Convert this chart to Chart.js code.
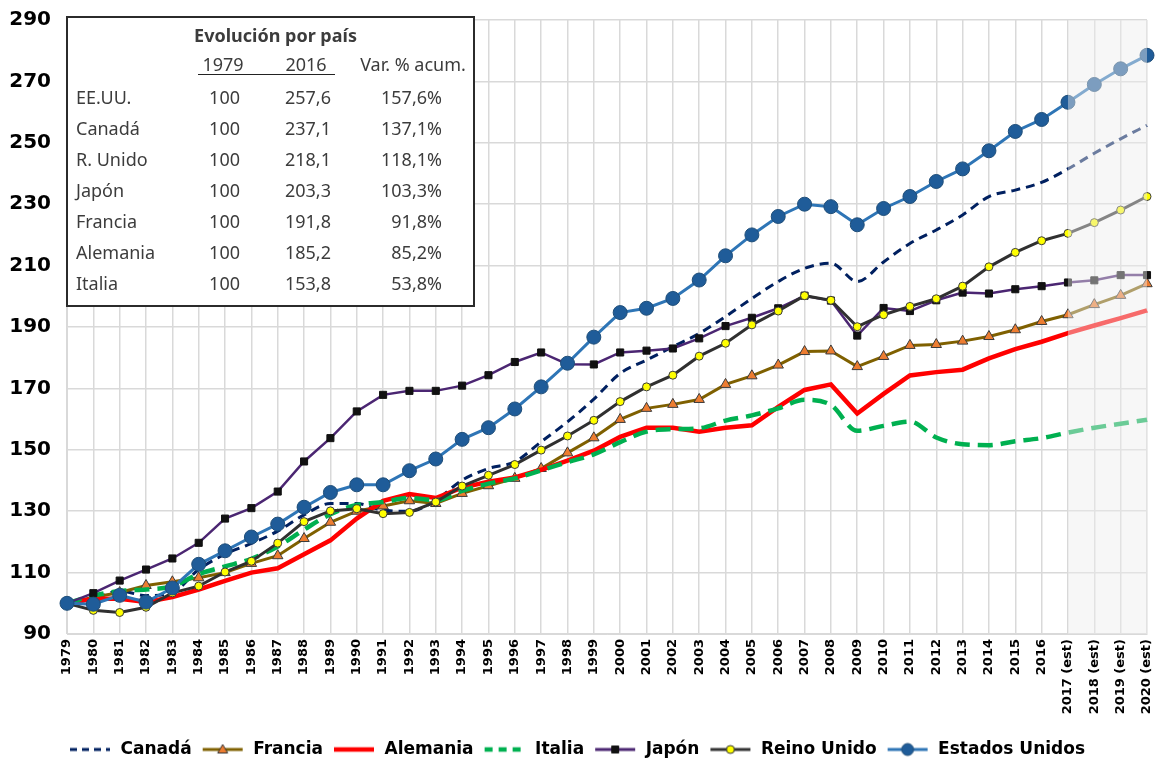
<!DOCTYPE html>
<html>
<head>
<meta charset="utf-8">
<script src="https://cdn.jsdelivr.net/npm/chart.js@4/dist/chart.umd.min.js"></script>
<style>
    body { margin: 0; background: #ffffff; }
    #wrap { position: relative; width: 1156px; height: 761px; }
    #inset {
        position: absolute; left: 66px; top: 16px; width: 405px; height: 287px;
        background: #ffffff; border: 2px solid #2b2b2b;
        font-family: "Noto Sans", "Open Sans", sans-serif; font-size: 18px; color: #3c3c3c;
    }
    #inset span { position: absolute; white-space: nowrap; line-height: 20px; }
</style>
</head>
<body>
<div id="wrap">
    <canvas id="chart" width="1156" height="761"></canvas>
    <div id="inset"></div>
</div>
<script>
// Years on the x axis
const years = ['1979', '1980', '1981', '1982', '1983', '1984', '1985', '1986', '1987', '1988',
    '1989', '1990', '1991', '1992', '1993', '1994', '1995', '1996', '1997', '1998',
    '1999', '2000', '2001', '2002', '2003', '2004', '2005', '2006', '2007', '2008',
    '2009', '2010', '2011', '2012', '2013', '2014', '2015', '2016',
    '2017 (est)', '2018 (est)', '2019 (est)', '2020 (est)'];

// Index 1979 = 100
const canada = [100, 101.5, 104, 102.5, 103.5, 111, 116, 119.5, 123.5, 128.8,
    132.5, 132.5, 130.3, 130, 133.6, 140.1, 143.9, 146.1, 152.6, 159.1,
    166.5, 174.9, 179.2, 183.6, 187.9, 193.4, 199.3, 204.8, 209.1, 210.8,
    204.8, 211.2, 217.2, 221.6, 226.5, 232.5, 234.6, 237.1, 241.5, 246.6, 251.3, 255.7];
const francia = [100, 102, 103.5, 105.8, 107, 108.3, 110, 113, 115.5, 121.1,
    126.4, 130, 131.7, 133.4, 132.5, 135.8, 138.3, 140.7, 143.9, 149,
    153.9, 159.9, 163.5, 164.8, 166.4, 171.3, 174.1, 177.6, 182, 182.2,
    177.1, 180.4, 184, 184.3, 185.4, 186.9, 189.1, 191.8, 194, 197.3, 200.3, 204.1];
const alemania = [100, 101.5, 101.5, 100.4, 102, 104.5, 107.3, 110, 111.4, 116,
    120.5, 127.6, 133.4, 135.6, 134.3, 137.7, 139.6, 141, 143.5, 146.5,
    149.7, 154.2, 157.2, 157.2, 155.9, 157.2, 158, 164, 169.5, 171.3,
    161.8, 168.2, 174.2, 175.3, 176.1, 179.8, 182.8, 185.2, 188, 190.5, 192.9, 195.4];
const italia = [100, 102.5, 104, 104.5, 105.5, 109.5, 112, 114.5, 118.5, 124,
    129, 132, 133, 134.3, 133.6, 136.6, 139, 140.7, 143.3, 146,
    148.5, 152.5, 155.9, 156.7, 157, 159.5, 161.2, 163.5, 166.3, 164.6,
    156.2, 157.8, 159.2, 154, 151.8, 151.5, 152.8, 153.8, 155.6, 157.2, 158.5, 159.8];
const japon = [100, 103.3, 107.4, 111, 114.6, 119.7, 127.6, 131, 136.4, 146.2,
    153.8, 162.5, 167.9, 169.2, 169.2, 170.9, 174.3, 178.6, 181.7, 177.9,
    177.8, 181.7, 182.3, 183, 186.3, 190.3, 193, 196.1, 200.2, 198.6,
    187.2, 196.2, 195.2, 198.7, 201.2, 200.9, 202.3, 203.3, 204.5, 205.2, 206.9, 206.9];
const reinoUnido = [100, 97.7, 97, 98.7, 103.4, 105.6, 110.2, 113.7, 119.6, 126.6,
    130.1, 130.8, 129.2, 129.6, 133, 138.2, 141.7, 145.2, 149.9, 154.5,
    159.6, 165.7, 170.5, 174.3, 180.5, 184.7, 190.7, 195.2, 200.2, 198.7,
    190.1, 194, 196.7, 199.2, 203.3, 209.6, 214.3, 218.1, 220.5, 224, 228.1, 232.5];
const eeuu = [100, 99.7, 102.6, 100.4, 105, 112.7, 117.1, 121.6, 125.8, 131.3,
    136.1, 138.6, 138.6, 143.2, 147, 153.4, 157.2, 163.3, 170.5, 178.2,
    186.7, 194.7, 196.1, 199.3, 205.3, 213.2, 220, 226, 230, 229.2,
    223.3, 228.6, 232.5, 237.4, 241.5, 247.4, 253.7, 257.6, 263.2, 269, 274.1, 278.5];

// Inset table
const tableTitle = 'Evolución por país';
const tableHeaders = ['1979', '2016', 'Var. % acum.'];
const tableCountries = ['EE.UU.', 'Canadá', 'R. Unido', 'Japón', 'Francia', 'Alemania', 'Italia'];
const table1979 = ['100', '100', '100', '100', '100', '100', '100'];
const table2016 = ['257,6', '237,1', '218,1', '203,3', '191,8', '185,2', '153,8'];
const tableVar = ['157,6%', '137,1%', '118,1%', '103,3%', '91,8%', '85,2%', '53,8%'];

const estStart = '2017 (est)';

/**
 * Build the inset table as positioned text
 */
function buildInset() {
    const box = document.getElementById('inset');
    const add = (text, css) => {
        const s = document.createElement('span');
        s.textContent = text;
        Object.assign(s.style, css);
        box.appendChild(s);
        return s;
    };
    add(tableTitle, { left: '0px', width: '415px', textAlign: 'center', top: '7px', fontWeight: 'bold' });
    add(tableHeaders[0], { left: '120px', width: '70px', textAlign: 'center', top: '36px' });
    add(tableHeaders[1], { left: '203px', width: '70px', textAlign: 'center', top: '36px' });
    add(tableHeaders[2], { left: '275px', width: '140px', textAlign: 'center', top: '36px' });
    const line = document.createElement('div');
    Object.assign(line.style, { position: 'absolute', left: '130px', width: '137px', top: '56px', height: '0px', borderTop: '1.5px solid #222' });
    box.appendChild(line);
    tableCountries.forEach((name, i) => {
        const top = (69 + i * 31) + 'px';
        add(name, { left: '8px', top: top });
        add(table1979[i], { right: (405 - 172) + 'px', top: top });
        add(table2016[i], { right: (405 - 263) + 'px', top: top });
        add(tableVar[i], { right: (405 - 374) + 'px', top: top });
    });
}

/**
 * Small canvas used as legend symbol: line plus marker
 */
function legendIcon(color, width, dash, marker) {
    const c = document.createElement('canvas');
    c.width = 50;
    c.height = 18;
    const ctx = c.getContext('2d');
    const cx = 28;
    ctx.strokeStyle = color;
    ctx.lineWidth = width;
    ctx.setLineDash(dash);
    ctx.beginPath();
    ctx.moveTo(8, 9);
    ctx.lineTo(48, 9);
    ctx.stroke();
    ctx.setLineDash([]);
    if (marker) {
        ctx.fillStyle = marker.fill;
        ctx.strokeStyle = marker.border;
        ctx.lineWidth = 1;
        ctx.beginPath();
        if (marker.style === 'circle') {
            ctx.arc(cx, 9, marker.radius, 0, Math.PI * 2);
        } else if (marker.style === 'rect') {
            ctx.rect(cx - marker.radius, 9 - marker.radius, marker.radius * 2, marker.radius * 2);
        } else {
            ctx.moveTo(cx, 9 - marker.radius);
            ctx.lineTo(cx + marker.radius, 9 + marker.radius * 0.7);
            ctx.lineTo(cx - marker.radius, 9 + marker.radius * 0.7);
            ctx.closePath();
        }
        ctx.fill();
        ctx.stroke();
    }
    return c;
}

// Light shading over estimated years
const estShade = {
    id: 'estShade',
    afterDatasetsDraw(chart) {
        const { ctx, chartArea, scales } = chart;
        const x0 = scales.x.getPixelForValue(years.indexOf(estStart));
        ctx.save();
        ctx.fillStyle = 'rgba(238, 238, 238, 0.45)';
        ctx.fillRect(x0, chartArea.top, chartArea.right - x0, chartArea.bottom - chartArea.top);
        ctx.restore();
    }
};

function initChart() {
    const icons = [
        legendIcon('#002060', 3, [7, 5], null),
        legendIcon('#7f6000', 3, [], { style: 'triangle', radius: 5, fill: '#ed7d31', border: '#333' }),
        legendIcon('#ff0000', 4.5, [], null),
        legendIcon('#00b050', 4.5, [8, 6], null),
        legendIcon('#4b2672', 3, [], { style: 'rect', radius: 3.5, fill: '#111', border: '#111' }),
        legendIcon('#333333', 3, [], { style: 'circle', radius: 4, fill: '#ffff00', border: '#333' }),
        legendIcon('#2e75b6', 3, [], { style: 'circle', radius: 6, fill: '#1f5c99', border: '#1f4e79' })
    ];

    new Chart(document.getElementById('chart'), {
        type: 'line',
        data: {
            labels: years,
            datasets: [{
                label: 'Canadá', data: canada, order: 6,
                borderColor: '#002060', borderWidth: 3, borderDash: [9, 6],
                pointRadius: 0, cubicInterpolationMode: 'monotone'
            }, {
                label: 'Francia', data: francia, order: 5,
                borderColor: '#7f6000', borderWidth: 3,
                pointStyle: 'triangle', pointRadius: 6,
                pointBackgroundColor: '#ed7d31', pointBorderColor: '#3a3a3a', pointBorderWidth: 1
            }, {
                label: 'Alemania', data: alemania, order: 4,
                borderColor: '#ff0000', borderWidth: 4.5, pointRadius: 0
            }, {
                label: 'Italia', data: italia, order: 3,
                borderColor: '#00b050', borderWidth: 4.5, borderDash: [15, 8],
                pointRadius: 0, cubicInterpolationMode: 'monotone'
            }, {
                label: 'Japón', data: japon, order: 2,
                borderColor: '#4b2672', borderWidth: 2.5,
                pointStyle: 'rect', pointRadius: 5,
                pointBackgroundColor: '#111111', pointBorderColor: '#111111', pointBorderWidth: 1
            }, {
                label: 'Reino Unido', data: reinoUnido, order: 1,
                borderColor: '#303030', borderWidth: 3,
                pointStyle: 'circle', pointRadius: 4,
                pointBackgroundColor: '#ffff00', pointBorderColor: '#3a3a3a', pointBorderWidth: 1
            }, {
                label: 'Estados Unidos', data: eeuu, order: 0,
                borderColor: '#2e75b6', borderWidth: 3,
                pointStyle: 'circle', pointRadius: 7,
                pointBackgroundColor: '#1f5c99', pointBorderColor: '#1f4e79', pointBorderWidth: 1
            }]
        },
        options: {
            responsive: false,
            animation: false,
            layout: { padding: { top: 20, right: 9, left: 0, bottom: -7 } },
            scales: {
                x: {
                    offset: false,
                    grid: { color: '#d9d9d9', lineWidth: 1.5, drawTicks: false },
                    border: { color: '#d9d9d9' },
                    ticks: {
                        autoSkip: false, maxRotation: 90, minRotation: 90, padding: 5,
                        color: '#000000',
                        font: { family: 'DejaVu Sans', weight: 'bold', size: 13 }
                    },
                    afterFit: s => {
                        s.height = 104;
                        s.paddingLeft = 0;
                        s.paddingRight = 0;
                    }
                },
                y: {
                    min: 90, max: 290,
                    grid: { color: '#d9d9d9', lineWidth: 1.5, drawTicks: false },
                    border: { color: '#d9d9d9' },
                    ticks: {
                        stepSize: 20, padding: 16, color: '#000000',
                        font: { family: 'DejaVu Sans', weight: 'bold', size: 20 }
                    },
                    afterFit: s => {
                        s.width = 67;
                        s.paddingTop = 0;
                        s.paddingBottom = 0;
                    }
                }
            },
            plugins: {
                tooltip: { enabled: false },
                legend: {
                    position: 'bottom',
                    labels: {
                        usePointStyle: true,
                        pointStyleWidth: 50,
                        boxHeight: 16,
                        padding: 3,
                        color: '#000000',
                        font: { family: 'DejaVu Sans', weight: 'bold', size: 17 },
                        sort: (a, b) => a.datasetIndex - b.datasetIndex,
                        generateLabels: chart => {
                            const items = Chart.defaults.plugins.legend.labels.generateLabels(chart);
                            items.forEach(item => { item.pointStyle = icons[item.datasetIndex]; });
                            return items;
                        }
                    }
                }
            }
        },
        plugins: [estShade]
    });
}

buildInset();
initChart();
</script>
</body>
</html>
